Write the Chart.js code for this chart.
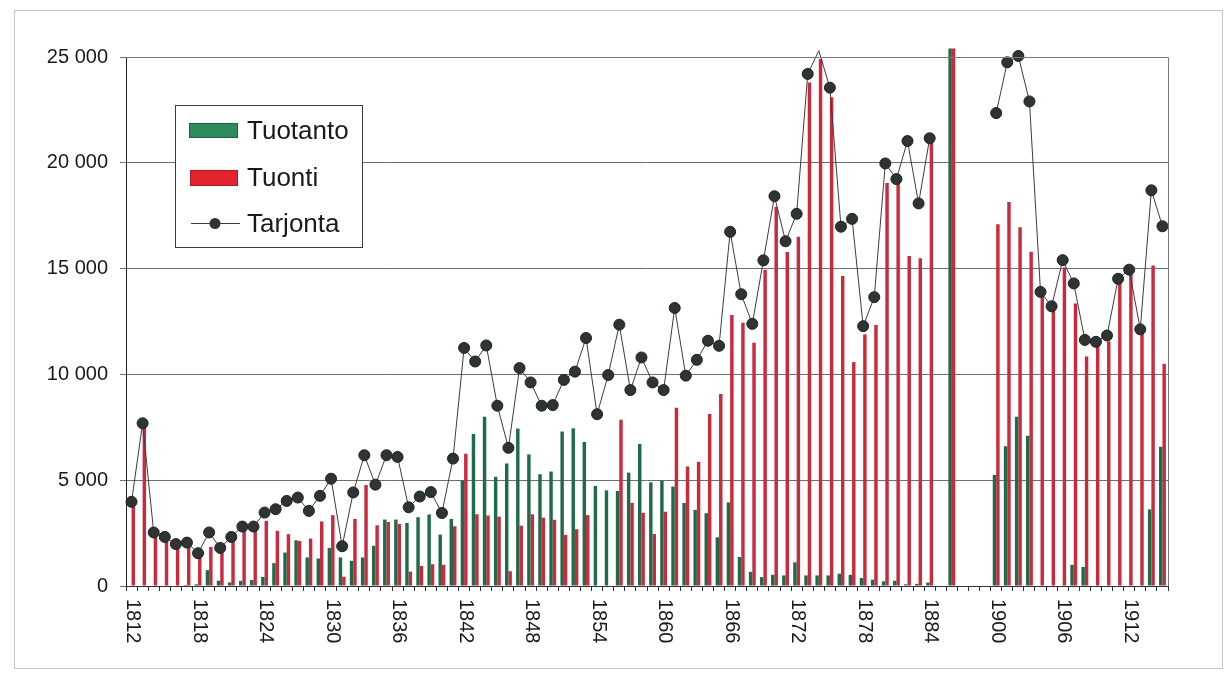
<!DOCTYPE html>
<html>
<head>
<meta charset="utf-8">
<script src="https://cdn.jsdelivr.net/npm/chart.js@4/dist/chart.umd.min.js"></script>
<style>
html,body{margin:0;padding:0;background:#fff;}
#wrap{position:relative;width:1229px;height:678px;}
canvas{display:block;}
</style>
</head>
<body>
<div id="wrap"><canvas id="c" width="1229" height="678"></canvas></div>
<script>
// Categories: 1812–1884, five unlabeled gap slots, 1900–1915
const categories = [
 '1812','1813','1814','1815','1816','1817','1818','1819','1820','1821',
 '1822','1823','1824','1825','1826','1827','1828','1829','1830','1831',
 '1832','1833','1834','1835','1836','1837','1838','1839','1840','1841',
 '1842','1843','1844','1845','1846','1847','1848','1849','1850','1851',
 '1852','1853','1854','1855','1856','1857','1858','1859','1860','1861',
 '1862','1863','1864','1865','1866','1867','1868','1869','1870','1871',
 '1872','1873','1874','1875','1876','1877','1878','1879','1880','1881',
 '1882','1883','1884',
 '','','','','',
 '1900','1901','1902','1903','1904','1905','1906','1907','1908','1909',
 '1910','1911','1912','1913','1914','1915'
];

const tickLabels = ['1812','1818','1824','1830','1836','1842','1848','1854','1860','1866','1872','1878','1884','1900','1906','1912'];

const tuotanto = [
 0,0,0,0,0,50,80,750,250,170,
 240,280,430,1080,1580,2160,1350,1300,1800,1350,
 1190,1350,1900,3140,3140,2980,3250,3380,2430,3170,
 4990,7180,8000,5160,5790,7440,6220,5280,5410,7300,
 7450,6800,4730,4520,4490,5360,6710,4900,4970,4700,
 3920,3600,3440,2300,3950,1370,670,420,530,500,
 1120,500,500,500,580,530,380,300,220,250,
 80,100,160,
 null,25400,null,null,null,
 5250,6600,8000,7100,0,0,0,1000,900,0,
 0,0,0,0,3620,6580
];

const tuonti = [
 3790,7570,2400,2130,1900,1950,1420,1850,1580,2450,
 2840,2950,3080,2610,2450,2130,2240,3050,3350,440,
 3170,4770,2870,3030,2930,680,950,1030,1000,2820,
 6250,3390,3330,3280,700,2850,3390,3230,3130,2420,
 2680,3350,0,0,7860,3930,3460,2460,3510,8420,
 5650,5870,8130,9080,12810,12440,11500,14950,17920,15790,
 16500,23800,24900,23100,14650,10580,11890,12330,19050,19020,
 15590,15490,20930,
 null,25400,null,null,null,
 17100,18150,16950,15800,13850,13300,15050,13350,10850,11430,
 11560,14400,14730,11980,15150,10500
];

const tarjonta = [
 3980,7690,2530,2320,1980,2050,1550,2530,1800,2320,
 2810,2810,3470,3630,4020,4180,3550,4260,5070,1880,
 4420,6180,4790,6180,6100,3720,4230,4440,3450,6020,
 11250,10610,11370,8520,6530,10300,9620,8520,8550,9740,
 10130,11720,8120,9970,12350,9260,10800,9620,9260,13140,
 9940,10690,11590,11350,16740,13790,12390,15390,18420,16290,
 17590,24200,25300,23550,16980,17350,12280,13650,19970,19230,
 21030,18080,21160,
 null,null,null,null,null,
 22350,24750,25050,22900,13900,13220,15400,14300,11630,11540,
 11840,14520,14950,12130,18700,17000
];

const FONT = '"Liberation Sans", Arial, Helvetica, sans-serif';

const decor = {
  id: 'decor',
  beforeDraw(chart) {
    const ctx = chart.ctx;
    ctx.save();
    ctx.fillStyle = '#ffffff';
    ctx.fillRect(0, 0, chart.width, chart.height);
    ctx.restore();
  },
  afterDraw(chart) {
    const ctx = chart.ctx;
    const a = chart.chartArea;
    const xs = chart.scales.x;
    ctx.save();
    // plot frame (top & right)
    ctx.strokeStyle = '#7a7a7a';
    ctx.lineWidth = 1;
    ctx.beginPath();
    ctx.moveTo(a.left, Math.round(a.top) + 0.5);
    ctx.lineTo(Math.round(a.right) + 0.5, Math.round(a.top) + 0.5);
    ctx.lineTo(Math.round(a.right) + 0.5, a.bottom);
    ctx.stroke();
    // outer frame
    ctx.strokeStyle = '#c4c4c4';
    ctx.strokeRect(14.5, 10.5, 1208, 658);

    // x tick labels rotated clockwise
    ctx.fillStyle = '#1a1a1a';
    ctx.font = '20px ' + FONT;
    ctx.textAlign = 'left';
    ctx.textBaseline = 'middle';
    categories.forEach((c, i) => {
      if (tickLabels.includes(c)) {
        const px = xs.getPixelForValue(i);
        ctx.save();
        ctx.translate(px + 1, a.bottom + 13);
        ctx.rotate(Math.PI / 2);
        ctx.fillText(c, 0, 0);
        ctx.restore();
      }
    });

    // legend box
    const ds = chart.data.datasets;
    ctx.fillStyle = '#ffffff';
    ctx.fillRect(175, 105, 187, 142);
    ctx.strokeStyle = '#3a3a3a';
    ctx.strokeRect(175.5, 105.5, 187, 142);
    ctx.font = '26px ' + FONT;
    ctx.textBaseline = 'alphabetic';
    // Tuotanto
    ctx.fillStyle = '#2f8a5c';
    ctx.fillRect(189, 123, 49, 15);
    ctx.strokeStyle = '#1f5f40';
    ctx.strokeRect(189.5, 123.5, 48, 14);
    ctx.fillStyle = '#1a1a1a';
    ctx.fillText(ds[0].label, 247, 139);
    // Tuonti
    ctx.fillStyle = '#e3232d';
    ctx.fillRect(190, 170, 48, 16);
    ctx.strokeStyle = '#a81c28';
    ctx.strokeRect(190.5, 170.5, 47, 15);
    ctx.fillStyle = '#1a1a1a';
    ctx.fillText(ds[1].label, 247, 186);
    // Tarjonta
    ctx.strokeStyle = '#3a3a3a';
    ctx.lineWidth = 1;
    ctx.beginPath();
    ctx.moveTo(191, 223.5);
    ctx.lineTo(240, 223.5);
    ctx.stroke();
    ctx.beginPath();
    ctx.arc(215, 223.5, 5.5, 0, Math.PI * 2);
    ctx.fillStyle = '#2d3431';
    ctx.fill();
    ctx.fillStyle = '#1a1a1a';
    ctx.fillText(ds[2].label, 247, 232);
    ctx.restore();
  }
};

new Chart(document.getElementById('c'), {
  type: 'bar',
  data: {
    labels: categories,
    datasets: [
      {
        label: 'Tuotanto',
        data: tuotanto,
        backgroundColor: '#1f6b48',
        borderWidth: 0,
        categoryPercentage: 0.62,
        barPercentage: 1.0,
        clip: false,
        order: 2
      },
      {
        label: 'Tuonti',
        data: tuonti,
        backgroundColor: '#c92a3e',
        borderWidth: 0,
        categoryPercentage: 0.62,
        barPercentage: 1.0,
        clip: false,
        order: 2
      },
      {
        type: 'line',
        label: 'Tarjonta',
        data: tarjonta,
        borderColor: '#3c3c3c',
        borderWidth: 1,
        pointBackgroundColor: '#2d3431',
        pointBorderColor: '#1e2220',
        pointBorderWidth: 1,
        pointRadius: (c) => (c.raw !== null && c.raw > 25200 ? 0 : 5.5),
        tension: 0,
        spanGaps: false,
        clip: false,
        order: 1
      }
    ]
  },
  options: {
    responsive: false,
    animation: false,
    devicePixelRatio: 1,
    layout: { padding: { top: 57, right: 61, bottom: 0, left: 0 } },
    plugins: {
      legend: { display: false },
      tooltip: { enabled: false },
      title: { display: false }
    },
    scales: {
      x: {
        offset: true,
        afterFit: (s) => { s.height = 92; },
        grid: {
          display: true,
          drawOnChartArea: false,
          drawTicks: true,
          tickLength: 5,
          color: '#333333',
          offset: true
        },
        border: { display: true, color: '#333333', width: 1 },
        ticks: { display: false, autoSkip: false }
      },
      y: {
        min: 0,
        max: 25000,
        afterFit: (s) => { s.width = 126; },
        grid: {
          color: '#6e6e6e',
          lineWidth: 1,
          drawTicks: true,
          tickLength: 6
        },
        border: { display: true, color: '#222222', width: 1 },
        ticks: {
          stepSize: 5000,
          padding: 12,
          color: '#1a1a1a',
          font: { family: FONT, size: 20 },
          callback: (v) => String(v).replace(/\B(?=(\d{3})+(?!\d))/g, ' ')
        }
      }
    }
  },
  plugins: [decor]
});
</script>
</body>
</html>
